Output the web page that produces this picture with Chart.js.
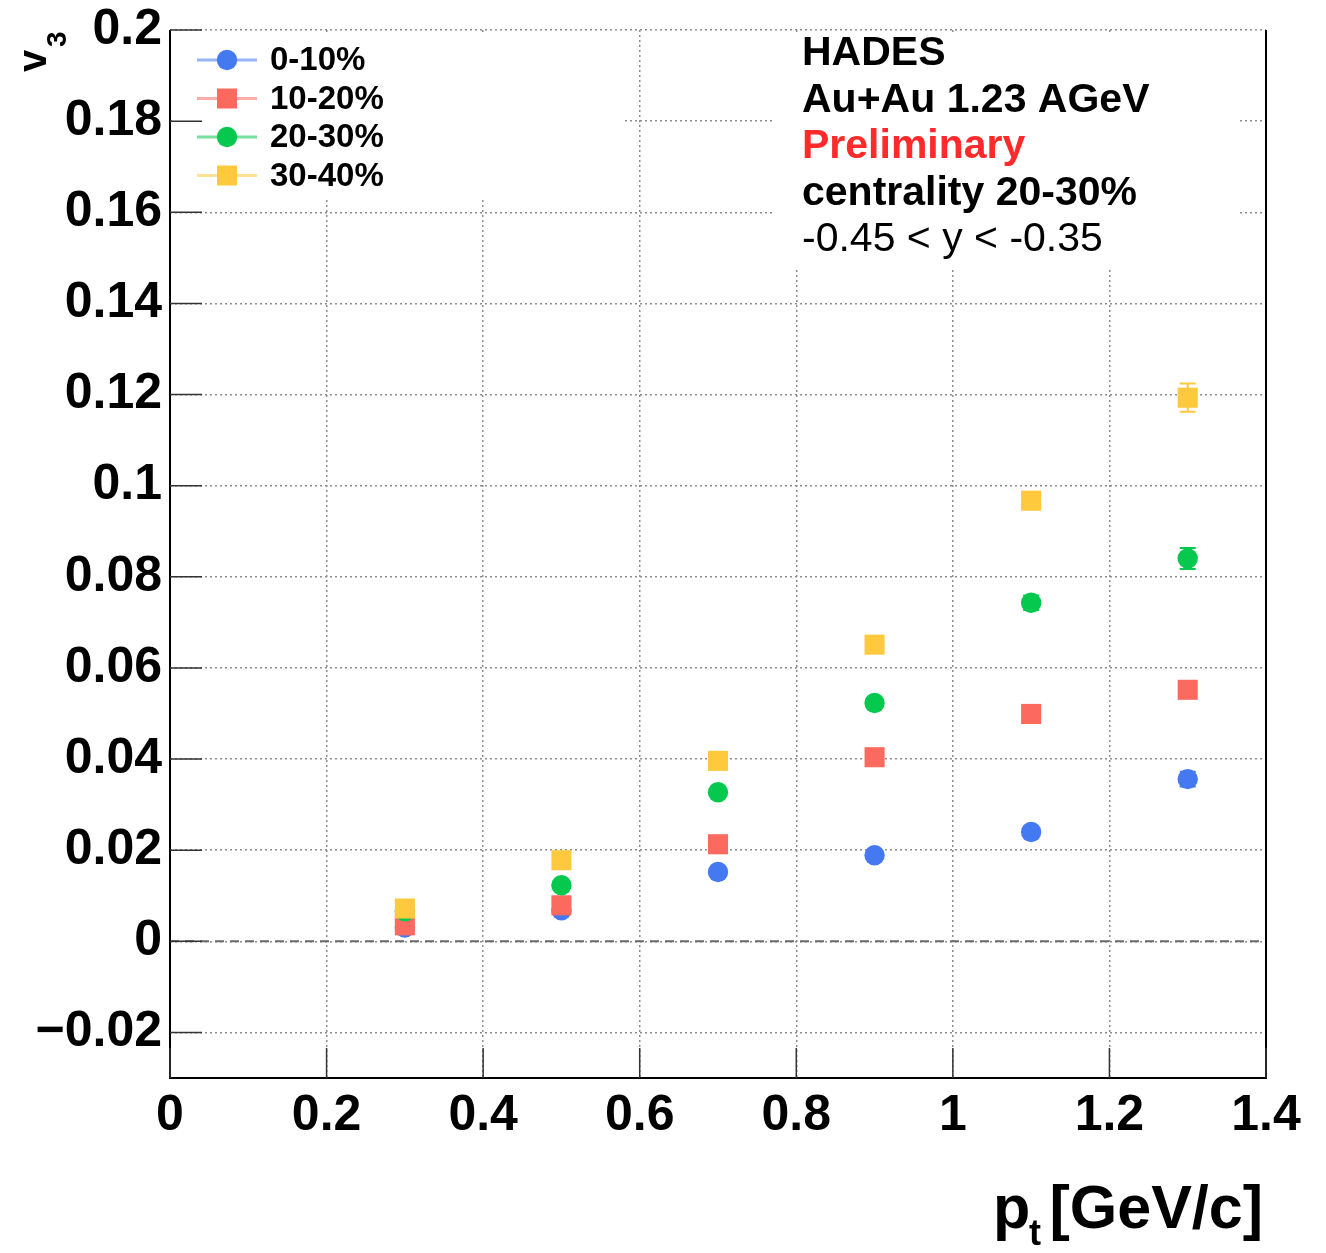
<!DOCTYPE html>
<html>
<head>
<meta charset="utf-8">
<script src="https://cdn.jsdelivr.net/npm/chart.js@4.4.1/dist/chart.umd.min.js"></script>
<style>
  html, body { margin: 0; padding: 0; background: #fff; }
  #wrap { width: 1326px; height: 1253px; }
</style>
</head>
<body>
<div id="wrap"><canvas id="c" width="1326" height="1253"></canvas></div>
<script>
// Transverse momentum bin centres [GeV/c]
const ptBins = [0.3, 0.5, 0.7, 0.9, 1.1, 1.3];

// v3 per centrality class and its statistical error
const centralityLabels = ['0-10%', '10-20%', '20-30%', '30-40%'];
const v3Cent0010 = [0.0030, 0.0068, 0.0152, 0.0189, 0.0240, 0.0356];
const err0010    = [0.0005, 0.0005, 0.0007, 0.0009, 0.0012, 0.0016];
const v3Cent1020 = [0.0035, 0.0079, 0.0213, 0.0404, 0.0499, 0.0552];
const err1020    = [0.0005, 0.0006, 0.0008, 0.0010, 0.0013, 0.0018];
const v3Cent2030 = [0.0066, 0.0123, 0.0327, 0.0523, 0.0743, 0.0840];
const err2030    = [0.0005, 0.0006, 0.0008, 0.0011, 0.0016, 0.0023];
const v3Cent3040 = [0.0072, 0.0178, 0.0396, 0.0651, 0.0967, 0.1193];
const err3040    = [0.0005, 0.0006, 0.0008, 0.0012, 0.0018, 0.0031];

const seriesValues = [v3Cent0010, v3Cent1020, v3Cent2030, v3Cent3040];
const seriesErrors = [err0010, err1020, err2030, err3040];
const seriesColors = ['#4479F2', '#FB695F', '#05C94F', '#FFC93E'];
const seriesMarkers = ['circle', 'rect', 'circle', 'rect'];

// Axis ticks
const xTicks = [0, 0.2, 0.4, 0.6, 0.8, 1.0, 1.2, 1.4];
const yTicks = [-0.02, 0, 0.02, 0.04, 0.06, 0.08, 0.1, 0.12, 0.14, 0.16, 0.18, 0.2];

// Annotation block
const infoLines = ['HADES', 'Au+Au 1.23 AGeV', 'Preliminary', 'centrality 20-30%', '-0.45 < y < -0.35'];

const FONT = "'Liberation Sans', Arial, Helvetica, sans-serif";

function fmtTick(v) {
  const s = String(+v.toFixed(3));
  return v < 0 ? '\u2212' + s.slice(1) : s;
}

const datasets = seriesValues.map((vals, i) => ({
  label: centralityLabels[i],
  data: vals.map((v, k) => ({ x: ptBins[k], y: v })),
  errors: seriesErrors[i],
  backgroundColor: seriesColors[i],
  borderColor: seriesColors[i],
  pointStyle: seriesMarkers[i],
  pointRadius: seriesMarkers[i] === 'rect' ? 14.2 : 10.2,
  pointHoverRadius: seriesMarkers[i] === 'rect' ? 14.2 : 10.2,
  pointBorderWidth: 0,
  showLine: false,
  order: seriesValues.length - i
}));

function hexA(hex, a) {
  const n = parseInt(hex.slice(1), 16);
  return `rgba(${(n >> 16) & 255},${(n >> 8) & 255},${n & 255},${a})`;
}

function marker(ctx, style, color, x, y) {
  ctx.fillStyle = color;
  if (style === 'rect') {
    ctx.fillRect(x - 10, y - 10, 20, 20);
  } else {
    ctx.beginPath();
    ctx.arc(x, y, 10.2, 0, Math.PI * 2);
    ctx.fill();
  }
}

const decor = {
  id: 'decor',
  beforeDatasetsDraw(chart) {
    const { ctx, chartArea: a, scales: { x, y } } = chart;
    ctx.save();
    // blank panels behind legend and annotation
    ctx.fillStyle = '#fff';
    ctx.fillRect(a.left + 2, a.top + 2, 450, 168);
    ctx.fillRect(a.left + 605, a.top + 2, 465, 238);

    // dashed zero line
    const y0 = y.getPixelForValue(0);
    ctx.strokeStyle = '#6a6a6a';
    ctx.lineWidth = 2;
    ctx.setLineDash([9, 6]);
    ctx.beginPath();
    ctx.moveTo(a.left, y0);
    ctx.lineTo(a.right, y0);
    ctx.stroke();
    ctx.setLineDash([]);

    // error bars
    chart.data.datasets.forEach((ds, di) => {
      const meta = chart.getDatasetMeta(di);
      if (meta.hidden) return;
      ctx.strokeStyle = ds.borderColor;
      ctx.lineWidth = 2;
      ds.data.forEach((p, k) => {
        const e = ds.errors[k];
        const px = x.getPixelForValue(p.x);
        const yHi = y.getPixelForValue(p.y + e);
        const yLo = y.getPixelForValue(p.y - e);
        ctx.beginPath();
        ctx.moveTo(px, yHi); ctx.lineTo(px, yLo);
        ctx.moveTo(px - 8, yHi); ctx.lineTo(px + 8, yHi);
        ctx.moveTo(px - 8, yLo); ctx.lineTo(px + 8, yLo);
        ctx.stroke();
      });
    });
    ctx.restore();
  },
  afterDatasetsDraw(chart) {
    const { ctx, chartArea: a, scales: { x, y } } = chart;
    ctx.save();
    // frame
    ctx.strokeStyle = '#000';
    ctx.lineWidth = 2;
    ctx.beginPath();
    ctx.moveTo(a.left, a.top); ctx.lineTo(a.left, a.bottom); ctx.lineTo(a.right, a.bottom); ctx.lineTo(a.right, a.top);
    ctx.stroke();
    // inner major ticks
    ctx.lineWidth = 1.5;
    ctx.strokeStyle = '#333';
    ctx.beginPath();
    yTicks.forEach(v => {
      const py = y.getPixelForValue(v);
      ctx.moveTo(a.left, py); ctx.lineTo(a.left + 32, py);
    });
    xTicks.forEach(v => {
      const px = x.getPixelForValue(v);
      ctx.moveTo(px, a.bottom); ctx.lineTo(px, a.bottom - 30);
    });
    ctx.stroke();

    // legend
    ctx.textBaseline = 'middle';
    ctx.textAlign = 'left';
    ctx.font = `bold 33px ${FONT}`;
    chart.data.datasets.forEach((ds, i) => {
      const cy = a.top + 30 + i * 38.5;
      const cx = a.left + 57;
      ctx.strokeStyle = hexA(ds.borderColor, 0.55);
      ctx.lineWidth = 3;
      ctx.beginPath();
      ctx.moveTo(cx - 30, cy); ctx.lineTo(cx + 30, cy);
      ctx.stroke();
      marker(ctx, ds.pointStyle, ds.backgroundColor, cx, cy);
      ctx.fillStyle = '#000';
      ctx.fillText(ds.label, a.left + 100, cy + 1);
    });

    // annotation
    ctx.textBaseline = 'alphabetic';
    const tx = a.left + 632;
    infoLines.forEach((t, i) => {
      const last = i === infoLines.length - 1;
      ctx.font = `${last ? '' : 'bold '}41px ${FONT}`;
      ctx.fillStyle = i === 2 ? '#FF2A2A' : '#000';
      ctx.fillText(t, tx, a.top + 35 + i * 46.6);
    });

    // axis titles
    ctx.fillStyle = '#000';
    ctx.textAlign = 'right';
    ctx.font = `bold 61px ${FONT}`;
    ctx.fillText('[GeV/c]', 1263, 1228);
    ctx.textAlign = 'left';
    ctx.fillText('p', 993, 1228);
    ctx.font = `bold 36px ${FONT}`;
    ctx.fillText('t', 1029, 1245);

    ctx.translate(46, 72);
    ctx.rotate(-Math.PI / 2);
    ctx.textAlign = 'left';
    ctx.font = `bold 40px ${FONT}`;
    ctx.fillText('v', 0, 0);
    ctx.font = `bold 28px ${FONT}`;
    ctx.fillText('3', 25, 20);
    ctx.restore();
  }
};

new Chart(document.getElementById('c'), {
  type: 'scatter',
  data: { datasets },
  options: {
    responsive: false,
    devicePixelRatio: 1,
    animation: false,
    events: [],
    layout: { padding: { top: 30, right: 60, left: 0, bottom: 0 } },
    plugins: { legend: { display: false }, tooltip: { enabled: false } },
    scales: {
      x: {
        type: 'linear',
        min: 0, max: 1.4,
        afterBuildTicks: s => { s.ticks = xTicks.map(v => ({ value: v })); },
        afterFit: s => { s.height = 175; s.paddingLeft = 0; s.paddingRight = 0; },
        ticks: {
          callback: v => fmtTick(v),
          color: '#000',
          padding: 8,
          maxRotation: 0,
          autoSkip: false,
          font: { family: FONT, weight: 'bold', size: 50 }
        },
        grid: { color: '#8c8c8c', lineWidth: 1.5, drawTicks: false },
        border: { display: false, dash: [2, 3] }
      },
      y: {
        type: 'linear',
        min: -0.03, max: 0.2,
        afterBuildTicks: s => { s.ticks = yTicks.map(v => ({ value: v })); },
        afterFit: s => { s.width = 170; s.paddingTop = 0; s.paddingBottom = 0; },
        ticks: {
          callback: v => fmtTick(v),
          color: '#000',
          padding: 8,
          autoSkip: false,
          font: { family: FONT, weight: 'bold', size: 50 }
        },
        grid: { color: '#8c8c8c', lineWidth: 1.5, drawTicks: false },
        border: { display: false, dash: [2, 3] }
      }
    }
  },
  plugins: [decor]
});
</script>
</body>
</html>
